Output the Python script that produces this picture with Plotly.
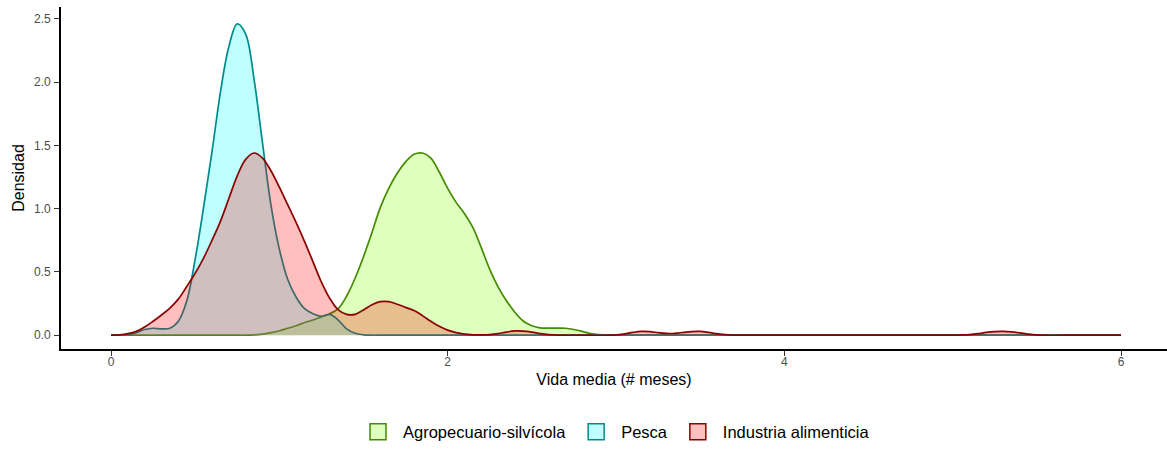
import plotly.graph_objects as go

# ---- data ----
series_names = ["Agropecuario-silvícola", "Pesca", "Industria alimenticia"]

agro_x = [0, 0.5, 0.7, 0.75, 0.80, 0.85, 0.90, 0.95, 1.00, 1.05, 1.10, 1.15, 1.20, 1.25, 1.30,
          1.35, 1.40, 1.45, 1.50, 1.55, 1.60, 1.65, 1.70, 1.75, 1.80, 1.85, 1.90, 1.95,
          2.00, 2.05, 2.10, 2.15, 2.20, 2.25, 2.30, 2.35, 2.40, 2.45, 2.50, 2.55, 2.60,
          2.65, 2.70, 2.75, 2.80, 2.85, 2.90, 2.95, 3.00, 3.05, 3.5, 4.5, 5.5, 6.0]
agro_y = [0, 0, 0, 0, 0, 0.002, 0.008, 0.02, 0.035, 0.055, 0.075, 0.10, 0.12, 0.145, 0.17,
          0.21, 0.31, 0.45, 0.62, 0.81, 1.01, 1.16, 1.28, 1.37, 1.43, 1.44, 1.40, 1.29,
          1.16, 1.05, 0.96, 0.85, 0.69, 0.52, 0.38, 0.27, 0.18, 0.11, 0.075, 0.058, 0.056,
          0.056, 0.055, 0.045, 0.03, 0.012, 0.004, 0, 0, 0, 0, 0, 0, 0]

pesca_x = [0, 0.05, 0.10, 0.15, 0.20, 0.25, 0.30, 0.35, 0.40, 0.45, 0.50, 0.55, 0.60, 0.65,
           0.70, 0.75, 0.80, 0.85, 0.90, 0.95, 1.00, 1.05, 1.10, 1.15, 1.20, 1.25, 1.30,
           1.35, 1.40, 1.45, 1.50, 1.55, 1.60, 1.65, 2.0, 3.0, 4.0, 5.0, 6.0]
pesca_y = [0, 0.001, 0.005, 0.02, 0.045, 0.055, 0.05, 0.055, 0.11, 0.27, 0.60, 1.01, 1.45,
           1.92, 2.28, 2.46, 2.38, 2.02, 1.52, 1.03, 0.68, 0.44, 0.30, 0.21, 0.17, 0.15,
           0.165, 0.12, 0.05, 0.015, 0.003, 0, 0, 0, 0, 0, 0, 0, 0]

ind_x = [0, 0.05, 0.10, 0.15, 0.20, 0.25, 0.30, 0.35, 0.40, 0.45, 0.50, 0.55, 0.60, 0.65,
         0.70, 0.75, 0.80, 0.85, 0.90, 0.95, 1.00, 1.05, 1.10, 1.15, 1.20, 1.25, 1.30,
         1.35, 1.40, 1.45, 1.50, 1.55, 1.60, 1.65, 1.70, 1.75, 1.80, 1.85, 1.90, 1.95,
         2.00, 2.05, 2.10, 2.15, 2.20, 2.25, 2.30, 2.35, 2.40, 2.45, 2.50, 2.55, 2.60,
         2.65, 2.70, 2.75, 2.85, 2.95, 3.00, 3.05, 3.10, 3.15, 3.20, 3.25, 3.30, 3.35,
         3.40, 3.45, 3.50, 3.55, 3.60, 3.65, 3.70, 3.75, 3.85, 4.5, 4.95, 5.05, 5.10,
         5.15, 5.20, 5.25, 5.30, 5.35, 5.40, 5.45, 5.50, 5.55, 5.65, 6.0]
ind_y = [0, 0.003, 0.012, 0.03, 0.065, 0.11, 0.16, 0.215, 0.285, 0.385, 0.49, 0.61, 0.75,
         0.90, 1.08, 1.26, 1.39, 1.44, 1.40, 1.30, 1.17, 1.03, 0.89, 0.74, 0.58, 0.42, 0.29,
         0.20, 0.165, 0.165, 0.20, 0.24, 0.265, 0.265, 0.245, 0.22, 0.195, 0.155, 0.11,
         0.07, 0.04, 0.02, 0.008, 0.003, 0.002, 0.005, 0.013, 0.025, 0.034, 0.033, 0.025,
         0.013, 0.005, 0.001, 0, 0, 0, 0, 0.002, 0.01, 0.022, 0.03, 0.028, 0.02, 0.014,
         0.015, 0.022, 0.029, 0.03, 0.022, 0.012, 0.004, 0.001, 0, 0, 0, 0, 0.002, 0.005,
         0.012, 0.022, 0.029, 0.031, 0.027, 0.018, 0.008, 0.002, 0, 0, 0]

x_ticks = [0, 2, 4, 6]
y_ticks = [0.0, 0.5, 1.0, 1.5, 2.0, 2.5]

fills = ["rgba(127,255,0,0.25)", "rgba(0,255,255,0.25)", "rgba(255,0,0,0.25)"]
lines = ["#458B00", "#008B8B", "#8B0000"]

fig = go.Figure()
for name, xs, ys, fc, lc in zip(series_names, [agro_x, pesca_x, ind_x],
                                [agro_y, pesca_y, ind_y], fills, lines):
    fig.add_trace(go.Scatter(
        x=xs, y=ys, name=name, mode="lines", fill="tozeroy", showlegend=False,
        fillcolor=fc, line=dict(color=lc, width=1.7, shape="spline", smoothing=1.0),
    ))

# legend keys (filled boxes, as in the reference)
for name, fc, lc in zip(series_names, fills, lines):
    fig.add_trace(go.Scatter(
        x=[None], y=[None], name=name, mode="markers", showlegend=True,
        marker=dict(symbol="square", size=24, color=fc, line=dict(color=lc, width=1.5)),
    ))

axis_common = dict(showgrid=False, zeroline=False, showline=True, linecolor="black",
                   linewidth=1.6, ticks="outside", ticklen=5, tickwidth=1,
                   tickcolor="#333333", tickfont=dict(size=12, color="#4D4D4D"),
                   automargin=False)

fig.update_layout(
    width=1167, height=450,
    margin=dict(l=61, r=0, t=7, b=97),
    plot_bgcolor="white", paper_bgcolor="white",
    font=dict(family="Liberation Sans, Arial, sans-serif", color="black"),
    xaxis=dict(range=[-0.297, 6.273], tickvals=x_ticks, ticklabelstandoff=-4,
               title=dict(text="Vida media (# meses)", font=dict(size=16), standoff=6),
               **axis_common),
    yaxis=dict(range=[-0.109, 2.594], tickvals=y_ticks, tickformat=".1f",
               ticklabelstandoff=1,
               title=dict(text="Densidad", font=dict(size=16), standoff=6),
               **axis_common),
    legend=dict(orientation="h", x=0.5, xanchor="center", y=-0.243, yanchor="middle",
                font=dict(size=16.5), itemwidth=40, traceorder="normal",
                itemsizing="trace"),
    showlegend=True,
)

fig.write_html("out.html", config={"displayModeBar": False},
               post_script="document.body.style.margin='0';document.body.style.overflow='hidden';")
